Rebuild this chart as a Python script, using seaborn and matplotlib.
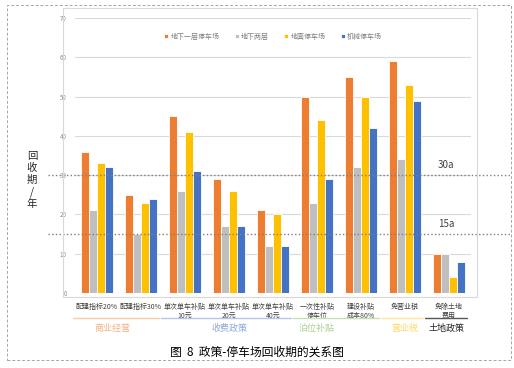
import matplotlib
matplotlib.use('Agg')
import matplotlib.pyplot as plt
import matplotlib.patches as patches
import matplotlib.transforms as mtransforms
import pandas as pd
import seaborn as sns

categories = ['配建指标20%', '配建指标30%', '单次单车补贴\n10元', '单次单车补贴\n20元',
              '单次单车补贴\n40元', '一次性补贴\n停车位', '建设补贴\n成本80%', '免营业税',
              '免除土地\n费用']
series = ['地下一层停车场', '地下两层', '地面停车场', '机械停车场']
b1 = [36, 25, 45, 29, 21, 50, 55, 59, 10]
b2 = [21, 15, 26, 17, 12, 23, 32, 34, 10]
ground = [33, 23, 41, 26, 20, 44, 50, 53, 4]
mech = [32, 24, 31, 17, 12, 29, 42, 49, 8]
groups = ['商业经营', '收费政策', '泊位补贴', '营业税', '土地政策']
group_span = [(0, 1), (2, 4), (5, 6), (7, 7), (8, 8)]
group_text_x = [0.35, 3.0, 5.0, 7.0, 7.95]
group_colors = ['#F4B183', '#8FAADC', '#A9D18E', '#FFD966', '#262626']
line_colors = ['#F8CBAD', '#B4C7E7', '#C5E0B4', '#FFE699', '#595959']
palette = ['#ED7D31', '#BFBFBF', '#FFC000', '#4472C4']

rows = []
for name, vals in zip(series, [b1, b2, ground, mech]):
    for c, v in zip(categories, vals):
        rows.append({'cat': c, 'series': name, 'value': v})
df = pd.DataFrame(rows)

sns.set_style('white')
plt.rcParams['font.family'] = ['Noto Sans CJK SC', 'DejaVu Sans']

fig = plt.figure(figsize=(5.14, 3.68), dpi=100)
ax = fig.add_axes([0.146, 0.204, 0.77, 0.747])

sns.barplot(data=df, x='cat', y='value', hue='series', order=categories,
            hue_order=series, palette=palette, saturation=1, width=0.72,
            edgecolor='white', linewidth=0.6, ax=ax)

ax.set_ylim(0, 70)
ax.set_xlim(-0.5, len(categories) - 0.5)
ax.set_yticks(range(0, 71, 10))
ax.yaxis.grid(True, color='#D9D9D9', linewidth=0.8)
ax.set_axisbelow(True)
for s in ax.spines.values():
    s.set_visible(False)
ax.tick_params(axis='y', labelsize=4.5, labelcolor='#8C8C8C', length=0, pad=6)
ax.tick_params(axis='x', labelsize=5, labelcolor='#404040', length=0, pad=7)
ax.set_xlabel('')
ax.set_ylabel('')

ax.legend(loc='upper center', bbox_to_anchor=(0.5, 0.97), ncol=4, frameon=False,
          fontsize=5, handlelength=0.6, handleheight=0.6, handletextpad=0.3,
          columnspacing=2.2, labelcolor='#7F7F7F')

# reference lines
for yv, lab in [(30, '30a'), (15, '15a')]:
    ax.axhline(yv, xmin=-0.068, xmax=1.098, color='#7F7F7F', linestyle=':',
               linewidth=1.0, clip_on=False)
    ax.text(0.937, yv + 1.2, lab, transform=ax.get_yaxis_transform(),
            fontsize=7, color='#404040', ha='center', va='bottom', clip_on=False)

# group labels below categories
trans = mtransforms.blended_transform_factory(ax.transData, ax.transAxes)
for g, (a, b), tx, tc, lc in zip(groups, group_span, group_text_x, group_colors, line_colors):
    ax.plot([a - 0.55, b + 0.42], [-0.092, -0.092], transform=trans, color=lc,
            linewidth=1.0, clip_on=False)
    ax.text(tx, -0.128, g, transform=trans, fontsize=6.5, color=tc,
            ha='center', va='center')

# chart box and outer dashed frame
fig.patches.append(patches.Rectangle((63 / 514, 1 - 297 / 368), 414 / 514, 289 / 368,
                                     transform=fig.transFigure, fill=False,
                                     edgecolor='#D9D9D9', linewidth=0.8))
fig.patches.append(patches.Rectangle((7 / 514, 1 - 360 / 368), 504 / 514, 355 / 368,
                                     transform=fig.transFigure, fill=False,
                                     edgecolor='#A6A6A6', linewidth=0.7,
                                     linestyle=(0, (3, 2))))

fig.text(32 / 514, 1 - 180 / 368, '回\n收\n期\n/\n年', fontsize=7.5, color='#262626',
         ha='center', va='center', linespacing=1.25)
fig.text(257 / 514, 1 - 352 / 368, '图  8  政策-停车场回收期的关系图', fontsize=8.5,
         color='#000000', ha='center', va='center')

fig.savefig('out.png', dpi=100)
